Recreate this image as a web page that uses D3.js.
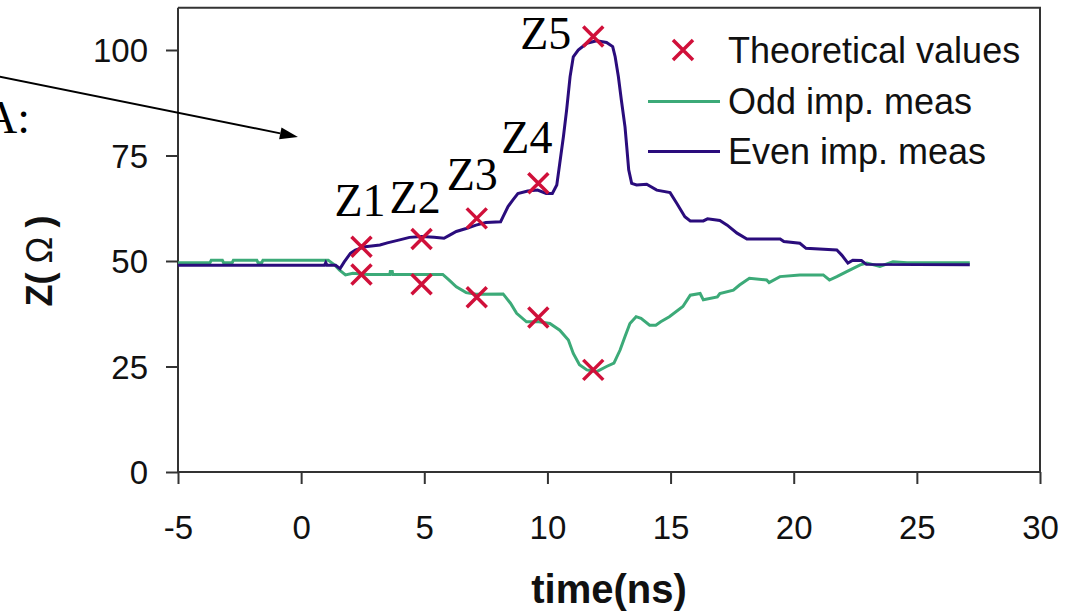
<!DOCTYPE html>
<html><head><meta charset="utf-8">
<script src="https://cdn.jsdelivr.net/npm/d3@7"></script>
<style>html,body{margin:0;padding:0;background:#fff;overflow:hidden}</style>
</head><body>
<svg id="c" width="1072" height="612"></svg>
<script>
// ---- data ----
const xTicks = [-5, 0, 5, 10, 15, 20, 25, 30];
const yTicks = [0, 25, 50, 75, 100];

const evenT = [-5, 0.95, 1.0, 1.05, 1.4, 1.58, 1.75, 2.0, 2.2, 2.6, 3.2, 3.5, 4.0, 4.4, 4.9, 5.4, 5.8, 6.05, 6.3, 6.7, 7.1, 7.5, 8.1, 8.2, 8.4, 8.6, 8.8, 9.2, 9.6, 9.95, 10.2, 10.38, 10.5, 10.65, 10.78, 10.92, 11.05, 11.25, 11.6, 12.0, 12.4, 12.65, 12.75, 12.88, 13.0, 13.15, 13.22, 13.3, 13.42, 13.62, 14.03, 14.44, 14.98, 15.25, 15.58, 15.8, 16.33, 16.5, 17.0, 17.3, 17.7, 18.1, 19.45, 19.6, 20.25, 20.5, 21.75, 21.95, 22.2, 22.4, 22.75, 22.95, 27.15];
const evenZ = [49.0, 49.0, 49.6, 49.0, 49.0, 48.2, 49.8, 51.8, 52.6, 53.4, 53.8, 54.3, 55.0, 55.6, 55.8, 55.6, 55.4, 56.2, 57.0, 57.7, 58.5, 59.1, 59.3, 60.5, 62.9, 64.5, 66.0, 66.6, 66.8, 66.0, 66.0, 68.0, 73.1, 79.5, 85.8, 93.7, 98.4, 100.0, 101.6, 102.2, 101.8, 100.8, 98.4, 93.7, 88.2, 81.8, 77.1, 71.6, 68.4, 68.0, 68.2, 66.8, 66.2, 63.7, 60.5, 59.5, 59.5, 60.0, 59.6, 58.5, 56.6, 55.2, 55.2, 54.6, 54.2, 53.0, 52.6, 51.4, 49.5, 50.2, 50.1, 49.2, 49.1];

const oddT = [-5, -3.7, -3.65, -3.2, -3.15, -2.8, -2.75, -1.8, -1.75, -1.6, -1.55, 1.1, 1.35, 1.55, 1.8, 2.1, 2.7, 3.6, 3.62, 3.7, 3.72, 5.75, 6.0, 6.3, 6.7, 7.1, 8.2, 8.5, 8.75, 9.15, 9.65, 10.1, 10.5, 10.85, 11.05, 11.3, 11.6, 12.0, 12.4, 12.7, 12.95, 13.15, 13.35, 13.6, 13.8, 14.15, 14.4, 14.6, 14.95, 15.5, 15.8, 16.2, 16.33, 16.9, 17.0, 17.55, 17.8, 18.2, 18.9, 19.0, 19.44, 20.25, 21.2, 21.45, 21.75, 22.15, 22.7, 22.97, 23.5, 24.03, 24.6, 27.15];
const oddZ = [49.6, 49.6, 50.2, 50.2, 49.6, 49.6, 50.2, 50.2, 49.6, 49.6, 50.2, 50.2, 49.1, 47.9, 46.7, 47.1, 46.8, 46.8, 47.5, 47.5, 46.8, 46.8, 45.5, 43.9, 42.5, 42.1, 42.2, 40.0, 37.6, 35.6, 35.6, 35.2, 33.6, 31.3, 28.1, 25.4, 24.2, 23.8, 25.0, 25.8, 28.9, 32.1, 35.2, 36.8, 36.4, 34.8, 34.8, 35.6, 36.8, 39.2, 41.9, 42.3, 40.8, 41.5, 42.3, 43.1, 44.3, 45.9, 45.5, 44.9, 46.3, 46.7, 46.7, 45.5, 46.3, 47.5, 49.1, 49.5, 48.7, 49.8, 49.6, 49.6];

const theoT = [2.45, 4.89, 7.13, 9.63, 11.86];
const theoUpper = [53.4, 55.2, 60.1, 68.4, 103.2];
const theoLower = [46.8, 44.5, 41.4, 36.6, 24.2];
const zLabels = ["Z1", "Z2", "Z3", "Z4", "Z5"];
const legendLabels = ["Theoretical values", "Odd imp. meas", "Even imp. meas"];

// ---- drawing ----
const svg = d3.select("#c");
const x = d3.scaleLinear().domain([-5, 30]).range([178, 1040]);
const y = d3.scaleLinear().domain([0, 110]).range([472, 7.8]);
const sans = "'Liberation Sans', Arial, Helvetica, sans-serif";
const serif = "'Liberation Serif', 'Times New Roman', serif";
const axisCol = "#333";
const evenCol = "#2a0c7c";
const oddCol = "#3caa78";
const crossCol = "#d0103a";

// frame (top/right)
svg.append("path")
  .attr("d", `M${x(-5)},${y(110)}H${x(30)}V${y(0)}`)
  .attr("fill", "none").attr("stroke", axisCol).attr("stroke-width", 2);

// axes
const gx = svg.append("g").attr("transform", `translate(0,${y(0)})`)
  .call(d3.axisBottom(x).tickValues(xTicks).tickFormat(d => String(d)).tickSize(12).tickSizeOuter(0).tickPadding(32));
const gy = svg.append("g").attr("transform", `translate(${x(-5)},0)`)
  .call(d3.axisLeft(y).tickValues(yTicks).tickFormat(d => String(d)).tickSize(12).tickSizeOuter(0).tickPadding(18));
[gx, gy].forEach(g => {
  g.select(".domain").attr("stroke", axisCol).attr("stroke-width", 2);
  g.selectAll(".tick line").attr("stroke", axisCol).attr("stroke-width", 2);
  g.selectAll(".tick text").attr("font-family", sans).attr("font-size", 33).attr("fill", "#111");
});
gy.selectAll(".tick text").attr("dy", "0.36em");
gy.select(".domain").attr("d", `M0,${y(110)}V${y(0)}`);
gx.select(".domain").attr("d", `M${x(-5)},0H${x(30)}`);

// axis titles
svg.append("text").attr("x", (x(-5) + x(30)) / 2).attr("y", 603)
  .attr("text-anchor", "middle").attr("font-family", sans).attr("font-weight", "bold")
  .attr("font-size", 40).attr("fill", "#111").text("time(ns)");
const yt = svg.append("text").attr("transform", `translate(52,${y(50)}) rotate(-90)`)
  .attr("text-anchor", "middle").attr("font-family", sans).attr("font-weight", "bold")
  .attr("font-size", 36).attr("fill", "#111");
yt.append("tspan").text("Z(");
yt.append("tspan").attr("font-weight", "normal").attr("dx", 9).text("Ω");
yt.append("tspan").attr("dx", 9).text(")");

// curves
const line = d3.line().x(d => x(d[0])).y(d => y(d[1]));
const oddData = oddT.map((t, i) => [t, oddZ[i]]);
const evenData = evenT.map((t, i) => [t, evenZ[i]]);
svg.append("path").datum(oddData).attr("d", line)
  .attr("fill", "none").attr("stroke", oddCol).attr("stroke-width", 3).attr("stroke-linejoin", "miter");
svg.append("path").datum(evenData).attr("d", line)
  .attr("fill", "none").attr("stroke", evenCol).attr("stroke-width", 3).attr("stroke-linejoin", "miter");

// theoretical crosses
function cross(cx, cy, s) {
  return `M${cx - s},${cy - s}L${cx + s},${cy + s}M${cx - s},${cy + s}L${cx + s},${cy - s}`;
}
const theo = theoT.flatMap((t, i) => [[t, theoUpper[i]], [t, theoLower[i]]]);
svg.append("g").selectAll("path").data(theo).join("path")
  .attr("d", d => cross(x(d[0]), y(d[1]), 10))
  .attr("stroke", crossCol).attr("stroke-width", 3.5).attr("fill", "none");

// Z labels (anchored on the theoretical upper points)
const zOffsets = [[-27, -31], [-32, -26], [-30, -28], [-37, -30], [-73, 13]];
svg.append("g").selectAll("text").data(zLabels).join("text")
  .attr("x", (d, i) => x(theoT[i]) + zOffsets[i][0])
  .attr("y", (d, i) => y(theoUpper[i]) + zOffsets[i][1])
  .attr("font-family", serif).attr("font-size", 46).attr("fill", "#000").text(d => d);

// "A:" annotation and arrow
svg.append("text").attr("x", -16).attr("y", 133).attr("font-family", serif)
  .attr("font-size", 46).attr("fill", "#000").text("A:");
const a0 = [x(-12.6), y(94.1)], a1 = [x(-0.13), y(79.4)];
const ang = Math.atan2(a1[1] - a0[1], a1[0] - a0[0]);
const hl = 18, hw = 6;
const bx = a1[0] - hl * Math.cos(ang), by = a1[1] - hl * Math.sin(ang);
svg.append("line").attr("x1", a0[0]).attr("y1", a0[1]).attr("x2", bx).attr("y2", by)
  .attr("stroke", "#000").attr("stroke-width", 2);
svg.append("path")
  .attr("d", `M${a1[0]},${a1[1]}L${bx - hw * Math.sin(ang)},${by + hw * Math.cos(ang)}L${bx + hw * Math.sin(ang)},${by - hw * Math.cos(ang)}Z`)
  .attr("fill", "#000");

// legend
const lg = svg.append("g");
const legY = [50, 101.5, 151.5];
lg.append("path").attr("d", cross(683, legY[0], 10)).attr("stroke", crossCol).attr("stroke-width", 3.5);
lg.append("line").attr("x1", 648).attr("x2", 720).attr("y1", legY[1]).attr("y2", legY[1]).attr("stroke", oddCol).attr("stroke-width", 3);
lg.append("line").attr("x1", 648).attr("x2", 720).attr("y1", legY[2]).attr("y2", legY[2]).attr("stroke", evenCol).attr("stroke-width", 3);
lg.selectAll("text").data(legendLabels).join("text")
  .attr("x", 728).attr("y", (d, i) => legY[i] + 12.5)
  .attr("font-family", sans).attr("font-size", 36).attr("fill", "#111").text(d => d);
</script>
</body></html>
